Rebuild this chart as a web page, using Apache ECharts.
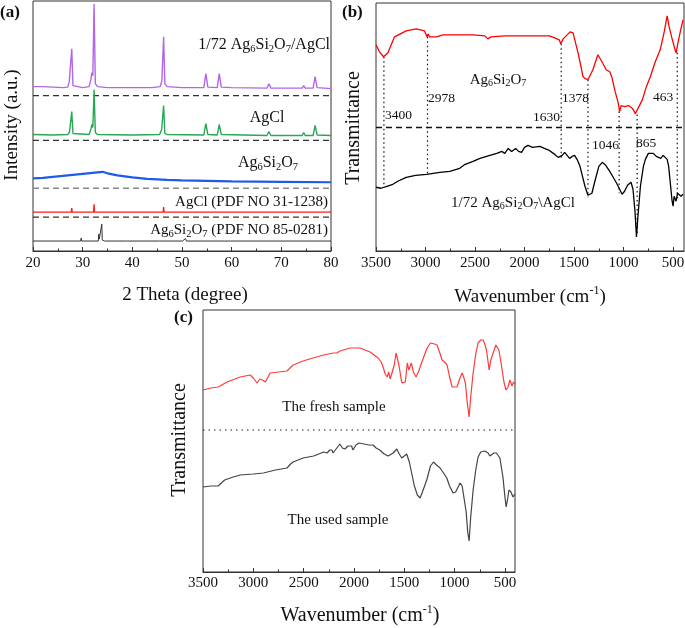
<!DOCTYPE html>
<html><head><meta charset="utf-8">
<script src="https://cdn.jsdelivr.net/npm/echarts@6/dist/echarts.min.js"></script>
<style>html,body{margin:0;padding:0;background:#fff}#c{width:685px;height:628px}</style>
</head><body><div id="c"></div>
<script>
// ---------------- DATA ----------------
// (a) XRD patterns: [2theta (deg), stacked intensity (a.u.)]
const xrdComposite = [[20,165],[22,165],[24,164.5],[26,164],[27.0,164.5],[27.3,170],[27.5,168],[27.8,203],[28.05,166],[28.4,164.5],[30,164],[31.3,165],[31.65,172],[31.85,179],[32.05,176],[32.3,248],[32.55,168],[33,165],[35,164],[40,164],[44,164],[45.6,165],[45.95,171],[46.1,173],[46.3,215],[46.55,168],[47,165],[50,164],[54.4,164],[54.8,178],[55.2,164.5],[57.1,164],[57.5,178],[57.9,164.5],[60,164],[67.1,163.5],[67.5,168],[67.9,163.5],[74.2,163.5],[74.5,166],[74.8,163.5],[76.4,163.5],[76.8,175],[77.2,164],[80,163]];
const xrdAgCl = [[20,117],[24,116.5],[27.0,117],[27.35,119.5],[27.55,118.5],[27.8,140],[28.05,118],[28.4,117],[31.3,117],[31.65,122],[31.85,127],[32.05,124],[32.3,162],[32.55,119],[33,117],[40,116.5],[45.5,117],[45.9,122],[46.1,124],[46.3,146],[46.55,118],[47,117],[54.4,116.5],[54.8,128],[55.2,117],[57.1,116.5],[57.5,127],[57.9,117],[67.1,116],[67.5,120],[67.9,116],[74.2,116],[74.5,119],[74.8,116],[76.4,116],[76.8,126],[77.2,116.5],[80,116]];
const xrdAg6Si2O7 = [[20,73],[22,73.5],[25,75],[28,76.5],[31,78],[33,79],[34,79.5],[35,78],[37,76],[40,74],[43,72.5],[47,71.5],[50,71],[55,70.5],[60,70],[70,69.5],[80,69]];
const pdfAgCl = [[20,39],[27.72,39],[27.8,43],[27.88,39],[32.22,39],[32.3,47],[32.38,39],[46.22,39],[46.3,44],[46.38,39],[54.77,39],[54.85,40],[54.93,39],[57.42,39],[57.5,40.5],[57.58,39],[67.4,39],[67.48,39.7],[67.56,39],[76.72,39],[76.8,40.5],[76.88,39],[80,39]];
const pdfAg6Si2O7 = [[20,10],[21.2,10],[21.3,10.6],[21.4,10],[29.6,10],[29.7,13],[29.8,10],[33.15,10],[33.25,17],[33.35,12],[33.5,13],[33.62,10.5],[33.75,11],[33.85,27],[33.95,11],[34.2,10],[34.3,13],[34.4,10],[35.9,10],[36,12],[36.1,10],[36.9,10],[37,11.5],[37.1,10],[38.6,10],[38.7,11.5],[38.8,10],[39.1,10],[39.2,11.5],[39.3,10],[45.5,10],[45.6,11],[45.7,10],[50.1,10],[50.3,12],[50.5,11],[50.7,12.5],[50.9,10],[58.5,10],[58.6,11],[58.7,10],[59.8,10],[59.9,11],[60,10],[60.6,10],[60.7,11],[60.8,10],[61.1,10],[61.2,11],[61.3,10],[80,10]];
const xrdDividers = [156, 111, 63, 34];
const thetaTicks = [20, 30, 40, 50, 60, 70, 80];

// (b) FTIR: [wavenumber (cm-1), stacked transmittance (a.u.)]
const ftirB_Ag6Si2O7 = [[3500,207],[3465,200],[3424,195],[3380,199],[3313,215],[3195,221],[3093,223],[3010,221],[2985,215],[2975,218],[2960,215],[2940,213],[2890,215],[2825,217],[2700,217],[2520,217],[2400,216],[2370,213],[2340,215],[2200,216],[2000,216],[1845,216],[1750,216],[1695,214],[1650,212],[1635,208],[1610,213],[1590,215],[1540,220],[1510,219],[1460,199],[1430,185],[1410,175],[1385,173],[1360,172],[1335,177],[1310,182],[1260,197],[1230,192],[1210,190],[1175,182],[1140,180],[1120,175],[1085,160],[1055,149],[1040,140],[1025,146],[990,145],[950,146],[910,143],[880,138],[863,137],[840,146],[810,152],[770,165],[730,175],[680,190],[630,202],[590,220],[560,236],[540,225],[510,213],[480,202],[470,199],[458,199],[445,212],[430,219],[400,232]];
const ftirB_composite = [[3500,64],[3450,63],[3390,65],[3330,67],[3280,70],[3195,74],[3100,76],[2990,77],[2855,79],[2755,80],[2655,83],[2600,87],[2520,90],[2450,93],[2350,96],[2280,98],[2230,100],[2200,98],[2165,103],[2150,105],[2130,100],[2090,103],[2060,100],[2030,99],[2000,104],[1965,106],[1920,104],[1845,105],[1800,103],[1750,101],[1695,97],[1660,94],[1645,92],[1620,96],[1595,99],[1570,96],[1545,93],[1520,95],[1495,96],[1470,92],[1440,85],[1415,75],[1390,65],[1360,56],[1340,54],[1320,58],[1290,70],[1250,85],[1215,89],[1180,86],[1140,80],[1105,74],[1070,68],[1040,62],[1015,57],[990,60],[960,66],[925,69],[905,62],[885,40],[870,14],[855,35],[830,65],[800,85],[780,92],[750,98],[730,99],[700,98],[670,95],[650,97],[625,93],[600,96],[580,97],[560,92],[545,85],[530,70],[510,50],[500,45],[490,55],[480,53],[470,50],[455,58],[440,60],[420,55],[400,57]];
const ftirB_markWn = [3420, 2980, 1630, 1360, 1045, 863, 458];
const ftirB_markTop = [195, 215, 208, 172, 140, 137, 199];
const ftirB_markBottom = [64, 78, 92, 54, 58, 16, 52];
const ftirB_markLabels = ['3400', '2978', '1630', '1378', '1046', '865', '463'];
const ftirB_divider = 124;

// (c) FTIR fresh vs used
const ftirC_fresh = [[3500,182],[3420,184],[3350,185],[3260,190],[3130,195],[3030,197],[3000,194],[2963,189],[2935,193],[2910,192],[2880,190],[2833,199],[2750,200],[2665,201],[2605,207],[2506,211],[2407,214],[2300,217],[2208,219],[2170,219],[2140,221],[2040,224],[1940,224],[1840,220],[1760,214],[1730,210],[1710,205],[1690,198],[1670,195],[1655,200],[1640,193],[1625,192],[1600,207],[1582,219],[1565,212],[1550,205],[1530,192],[1522,189],[1505,190],[1490,190],[1470,209],[1455,202],[1445,204],[1430,209],[1410,200],[1383,195],[1360,200],[1343,205],[1300,217],[1273,224],[1240,229],[1224,230],[1200,228],[1174,227],[1150,220],[1125,212],[1100,210],[1075,207],[1050,195],[1025,185],[1000,185],[976,185],[950,193],[926,199],[910,195],[893,189],[875,170],[856,155],[840,175],[816,199],[790,218],[767,229],[740,232],[717,232],[700,228],[684,222],[670,212],[657,202],[640,212],[617,219],[590,227],[578,227],[560,222],[540,210],[510,190],[490,182],[470,185],[450,192],[430,186],[415,190],[400,188]];
const ftirC_used = [[3500,85],[3420,86],[3350,86],[3285,92],[3200,95],[3130,97],[3000,98],[2900,99],[2780,102],[2665,104],[2630,108],[2605,110],[2506,114],[2400,116],[2300,120],[2268,119],[2240,122],[2220,122],[2208,119],[2170,124],[2140,128],[2115,124],[2090,123],[2060,126],[2024,126],[2010,122],[1980,127],[1950,129],[1900,128],[1850,127],[1810,127],[1780,124],[1744,122],[1700,118],[1660,116],[1641,114],[1610,119],[1575,123],[1550,118],[1525,114],[1500,116],[1476,118],[1450,110],[1427,99],[1400,86],[1370,77],[1343,74],[1320,80],[1277,92],[1240,106],[1210,110],[1180,107],[1144,104],[1110,99],[1078,94],[1050,86],[1015,79],[990,80],[960,86],[946,89],[925,86],[907,85],[885,60],[870,40],[856,31],[840,55],[816,82],[790,102],[767,115],[740,120],[723,122],[700,121],[667,119],[650,116],[634,116],[610,119],[585,119],[570,119],[550,114],[520,95],[500,75],[488,65],[475,72],[460,82],[440,80],[420,75],[400,78]];
const ftirC_divider = 142;
const wnTicks = [3500, 3000, 2500, 2000, 1500, 1000, 500];
const wnMinorTicks = [3250, 2750, 2250, 1750, 1250, 750];

// ---------------- CHART ----------------
const FF = '"Liberation Serif", "Times New Roman", serif';
const chart = echarts.init(document.getElementById('c'));

function line(data, xi, color, width, type, z) {
  return { type: 'line', xAxisIndex: xi, yAxisIndex: xi < 3 ? xi : (xi === 3 ? 1 : 2),
    data: data, symbol: 'none', silent: true, animation: false, z: z || 2,
    lineStyle: { color: color, width: width, type: type || 'solid' } };
}

const series = [];
// (a)
const dashColorsA = ['#333', '#333', '#888', '#333'];
xrdDividers.forEach((v, i) => series.push(line([[20, v], [80, v]], 0, dashColorsA[i], 1.3, [6, 4], 1)));
series.push(line(xrdComposite, 0, '#b266e8', 1.4));
series.push(line(xrdAgCl, 0, '#27a855', 1.4));
series.push(line(xrdAg6Si2O7, 0, '#1e5be6', 2.2));
series.push(line(pdfAgCl, 0, '#ff1a1a', 1.4));
series.push(line(pdfAg6Si2O7, 0, '#333', 1));
// (b)
series.push(line([[3500, ftirB_divider], [390, ftirB_divider]], 1, '#111', 1.3, [6, 4], 1));
ftirB_markWn.forEach((w, i) => series.push(line([[w, ftirB_markTop[i]], [w, ftirB_markBottom[i]]], 1, '#111', 1.2, [1.5, 3], 1)));
series.push(line(ftirB_Ag6Si2O7, 1, '#ff0000', 1.3));
series.push(line(ftirB_composite, 1, '#000', 1.3));
// (c)
series.push(line([[3500, ftirC_divider], [400, ftirC_divider]], 2, '#222', 1.2, [1.5, 4], 1));
series.push(line(ftirC_fresh, 2, '#ff3b3b', 1.2));
series.push(line(ftirC_used, 2, '#444', 1.2));

const axisLbl = (size, margin) => ({ fontFamily: FF, fontSize: size, color: '#111', margin: margin, formatter: v => String(v) });
const wnAxis = (gi, min, margin) => ({
  gridIndex: gi, type: 'value', inverse: true, min: min, max: 3500, position: 'bottom',
  axisLine: { show: true, lineStyle: { color: '#333', width: 1 } },
  axisTick: { show: true, inside: true, length: 4, customValues: wnTicks, lineStyle: { color: '#333' } },
  axisLabel: Object.assign(axisLbl(15, margin), { customValues: wnTicks }),
  splitLine: { show: false }
});
const wnMinorAxis = (gi, min) => ({
  gridIndex: gi, type: 'value', inverse: true, min: min, max: 3500, position: 'bottom',
  axisLine: { show: false },
  axisTick: { show: true, inside: true, length: 2.5, customValues: wnMinorTicks, lineStyle: { color: '#333' } },
  axisLabel: { show: false }, splitLine: { show: false }
});

const sub = { fontFamily: FF, fontSize: 10.5, fill: '#111', padding: [8, 0, 0, 0] };
const subS = { fontFamily: FF, fontSize: 10, fill: '#111', padding: [7, 0, 0, 0] };
const sup = { fontFamily: FF, fontSize: 12, fill: '#111', padding: [0, 0, 12, 0] };

function T(x, y, text, size, opt) {
  opt = opt || {};
  return { type: 'text', x: x, y: y, rotation: opt.rot || 0, silent: true, z: 10,
    style: { text: text, fontFamily: FF, fontSize: size, fontWeight: opt.bold ? 'bold' : 'normal',
      fill: '#111', align: opt.align || 'center', verticalAlign: 'middle',
      rich: { s: opt.small ? subS : sub, p: sup } } };
}
const AGSI = 'Ag{s|6}Si{s|2}O{s|7}';

const graphics = [
  // panel (a)
  T(0, 13, '(a)', 17, { bold: true, align: 'left' }),
  T(12, 125, 'Intensity (a.u.)', 19, { rot: Math.PI / 2 }),
  T(185, 295, '2 Theta (degree)', 19),
  T(330, 45, '1/72 ' + AGSI + '/AgCl', 16, { align: 'right' }),
  T(267, 118, 'AgCl', 16),
  T(268, 163, AGSI, 16),
  T(328, 202, 'AgCl (PDF NO 31-1238)', 15, { align: 'right' }),
  T(328, 230, AGSI + ' (PDF NO 85-0281)', 15, { align: 'right' }),
  // panel (b)
  T(342, 13, '(b)', 17, { bold: true, align: 'left' }),
  T(354, 128, 'Transmittance', 20, { rot: Math.PI / 2 }),
  T(530, 297, 'Wavenumber (cm{p|-1})', 19),
  T(498, 80, AGSI, 15, { small: true }),
  T(513, 203, '1/72 ' + AGSI + '\\AgCl', 15, { small: true }),
  // panel (c)
  T(174, 318, '(c)', 17, { bold: true, align: 'left' }),
  T(180, 440, 'Transmittance', 20, { rot: Math.PI / 2 }),
  T(360, 616, 'Wavenumber (cm{p|-1})', 20),
  T(334, 407, 'The fresh sample', 15),
  T(338, 520, 'The used sample', 15)
];
const markLabelPos = [[385, 115, 'left'], [428, 98, 'left'], [560, 117, 'right'], [562, 98, 'left'], [592, 145, 'left'], [636, 143, 'left'], [653, 97, 'left']];
ftirB_markLabels.forEach((t, i) => graphics.push(T(markLabelPos[i][0], markLabelPos[i][1], t, 13.5, { align: markLabelPos[i][2] })));

const gridBase = { show: true, borderColor: '#333', borderWidth: 1, containLabel: false, outerBoundsMode: 'none' };
chart.setOption({
  animation: false,
  backgroundColor: '#fff',
  grid: [
    Object.assign({ left: 33, top: 1, width: 298, height: 250 }, gridBase),
    Object.assign({ left: 376, top: 3, width: 308, height: 248 }, gridBase),
    Object.assign({ left: 203, top: 310, width: 312, height: 262 }, gridBase)
  ],
  xAxis: [
    { gridIndex: 0, type: 'value', min: 20, max: 80, interval: 10, position: 'bottom',
      axisLine: { show: true, lineStyle: { color: '#333' } },
      axisTick: { show: true, inside: true, length: 4, lineStyle: { color: '#333' } },
      minorTick: { show: true, splitNumber: 2, length: 2.5, lineStyle: { color: '#333' } },
      axisLabel: axisLbl(15, 5), splitLine: { show: false } },
    wnAxis(1, 390, 5),
    wnAxis(2, 400, 4),
    wnMinorAxis(1, 390),
    wnMinorAxis(2, 400)
  ],
  yAxis: [
    { gridIndex: 0, type: 'value', min: 0, max: 251, show: false, splitLine: { show: false } },
    { gridIndex: 1, type: 'value', min: 0, max: 249, show: false, splitLine: { show: false } },
    { gridIndex: 2, type: 'value', min: 0, max: 262, show: false, splitLine: { show: false } }
  ],
  series: series,
  graphic: graphics
});
</script></body></html>
